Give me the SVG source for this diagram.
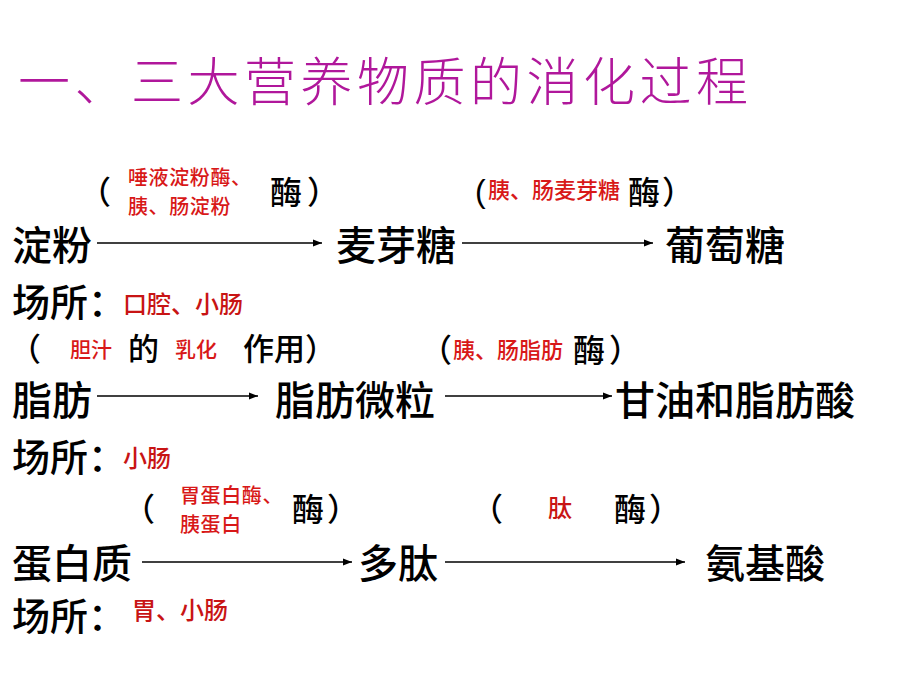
<svg xmlns="http://www.w3.org/2000/svg" width="920" height="690" viewBox="0 0 920 690">
<defs>
<marker id="ah" markerUnits="userSpaceOnUse" markerWidth="10" markerHeight="8" refX="9" refY="4" orient="auto">
<path d="M0,0.5 L9,4 L0,7.5 Z" fill="#000"/>
</marker>
<style>
text{font-family:"Noto Sans CJK SC","Noto Sans CJK TC",sans-serif;}
.title{font-size:52px;fill:#B0179B;font-weight:300;letter-spacing:4.5px;}
.main{font-size:40px;fill:#000;font-weight:500;}
.site{font-size:38px;fill:#000;font-weight:500;}
.br{font-size:32px;fill:#000;font-weight:500;}
.br31{font-size:31px;fill:#000;font-weight:500;}
.hp{font-family:"Liberation Sans",sans-serif;font-size:32px;fill:#000;}
.red{font-size:21px;fill:#D81818;font-weight:500;}
.red20{font-size:20px;fill:#D81818;font-weight:500;letter-spacing:0.6px;}
.red22{font-size:22px;fill:#D81818;font-weight:500;}
.red2{font-size:24px;fill:#C81414;font-weight:500;}
.arr{stroke:#000;stroke-width:1.3;fill:none;marker-end:url(#ah);}
</style>
</defs>
<rect width="920" height="690" fill="#fff"/>
<text id="title" class="title" x="18" y="101">一、三大营养物质的消化过程</text>

<g id="enzyme1">
<text class="br" x="79" y="204">（</text>
<text class="red20" x="128" y="185">唾液淀粉酶、</text>
<text class="red20" x="128" y="214">胰、肠淀粉</text>
<text class="br" x="270" y="204">酶</text>
<text class="br" x="307" y="204">）</text>
</g>
<g id="enzyme2">
<text class="hp" x="475" y="202">(</text>
<text class="red22" x="488" y="198">胰、肠麦芽糖</text>
<text class="br" x="628" y="204">酶</text>
<text class="br" x="662" y="204">）</text>
</g>
<g id="starch"><text class="main" x="12" y="260">淀粉</text></g>
<g id="maltose"><text class="main" x="336" y="260">麦芽糖</text></g>
<g id="glucose"><text class="main" x="665" y="260">葡萄糖</text></g>
<g id="site1">
<text class="site" x="12" y="316">场所：</text>
<text class="red2" x="123" y="313">口腔、小肠</text>
</g>

<g id="bile">
<text class="br" x="9" y="361">（</text>
<text class="red" x="70" y="357">胆汁</text>
<text class="br31" x="128" y="360">的</text>
<text class="red" x="175" y="357">乳化</text>
<text class="br31" x="243" y="360">作用）</text>
</g>
<g id="enzyme3">
<text class="br" x="420" y="362">（</text>
<text class="red22" x="453" y="358">胰、肠脂肪</text>
<text class="br" x="573" y="362">酶</text>
<text class="br" x="609" y="362">）</text>
</g>
<g id="fat"><text class="main" x="12" y="415">脂肪</text></g>
<g id="fatparticles"><text class="main" x="275" y="415">脂肪微粒</text></g>
<g id="glycerol"><text class="main" x="615" y="415">甘油和脂肪酸</text></g>
<g id="site2">
<text class="site" x="12" y="471">场所：</text>
<text class="red2" x="123" y="467">小肠</text>
</g>

<g id="enzyme4">
<text class="br" x="123" y="521">（</text>
<text class="red20" x="180" y="503">胃蛋白酶、</text>
<text class="red20" x="180" y="532">胰蛋白</text>
<text class="br" x="292" y="521">酶</text>
<text class="br" x="327" y="521">）</text>
</g>
<g id="enzyme5">
<text class="br" x="471" y="521">（</text>
<text class="red2" x="548" y="517">肽</text>
<text class="br" x="614" y="521">酶</text>
<text class="br" x="649" y="521">）</text>
</g>
<g id="protein"><text class="main" x="12" y="578">蛋白质</text></g>
<g id="peptide"><text class="main" x="358" y="578">多肽</text></g>
<g id="aminoacid"><text class="main" x="705" y="578">氨基酸</text></g>
<g id="site3">
<text class="site" x="12" y="630">场所：</text>
<text class="red2" x="132" y="619">胃、小肠</text>
</g>

<g id="connectors">
<line class="arr" x1="97" y1="243" x2="322" y2="243"/>
<line class="arr" x1="462" y1="243" x2="653" y2="243"/>
<line class="arr" x1="97" y1="396" x2="258" y2="396"/>
<line class="arr" x1="445" y1="396" x2="612" y2="396"/>
<line class="arr" x1="142" y1="562" x2="352" y2="562"/>
<line class="arr" x1="445" y1="562" x2="685" y2="562"/>
</g>
</svg>
